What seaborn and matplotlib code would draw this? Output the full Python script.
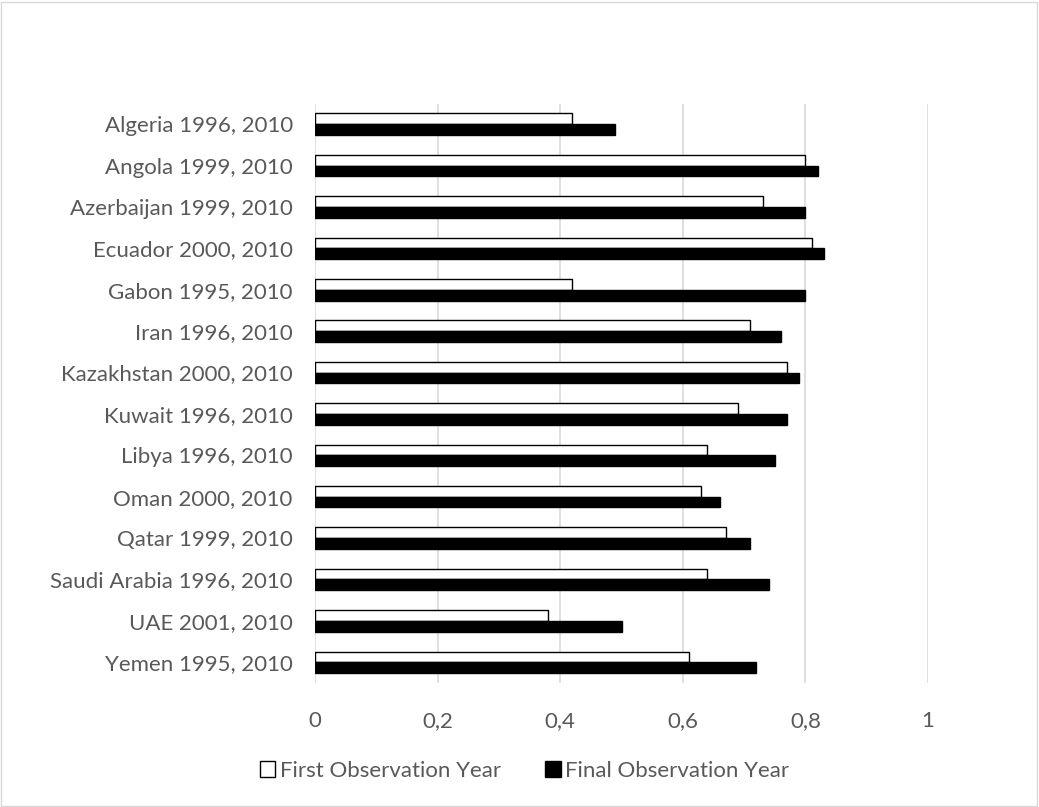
import matplotlib
matplotlib.use("Agg")
import matplotlib.pyplot as plt
import seaborn as sns
import pandas as pd
from matplotlib.patches import Rectangle
from matplotlib.ticker import FuncFormatter

countries = ["Algeria 1996, 2010", "Angola 1999, 2010", "Azerbaijan 1999, 2010",
             "Ecuador 2000, 2010", "Gabon 1995, 2010", "Iran 1996, 2010",
             "Kazakhstan 2000, 2010", "Kuwait 1996, 2010", "Libya 1996, 2010",
             "Oman 2000, 2010", "Qatar 1999, 2010", "Saudi Arabia 1996, 2010",
             "UAE 2001, 2010", "Yemen 1995, 2010"]
first_obs = [0.42, 0.80, 0.73, 0.81, 0.42, 0.71, 0.77, 0.69, 0.64, 0.63, 0.67, 0.64, 0.38, 0.61]
final_obs = [0.49, 0.82, 0.80, 0.83, 0.80, 0.76, 0.79, 0.77, 0.75, 0.66, 0.71, 0.74, 0.50, 0.72]
series = ["First Observation Year", "Final Observation Year"]
xticks = [0, 0.2, 0.4, 0.6, 0.8, 1]

df = pd.DataFrame({
    "country": countries * 2,
    "value": first_obs + final_obs,
    "series": [series[0]] * len(countries) + [series[1]] * len(countries),
})

sns.set_theme(style="white")
plt.rcParams['font.family'] = ['Lato', 'DejaVu Sans']

TXT = "#595959"
fig = plt.figure(figsize=(10.39, 8.07), dpi=100)
ax = fig.add_axes([0.3032, 0.1537, 0.59, 0.718])

sns.barplot(data=df, y="country", x="value", hue="series", orient="h",
            palette=["white", "black"], width=0.52, edgecolor="black",
            linewidth=1.0, ax=ax, legend=False, saturation=1)

ax.set_xlim(0, 1)
ax.set_xticks(xticks)
ax.xaxis.set_major_formatter(FuncFormatter(lambda v, p: ("%g" % v).replace(".", ",")))
ax.grid(axis="x", color="#d9d9d9", linewidth=1.2)
ax.set_axisbelow(True)
for s in ax.spines.values():
    s.set_visible(False)
ax.set_xlabel("")
ax.set_ylabel("")
ax.tick_params(axis="both", length=0, labelsize=16, colors=TXT)
ax.tick_params(axis="x", pad=20)
ax.tick_params(axis="y", pad=16)

handles = [Rectangle((0, 0), 1, 1, facecolor="white", edgecolor="black", linewidth=1.0),
           Rectangle((0, 0), 1, 1, facecolor="black", edgecolor="black", linewidth=1.0)]
fig.legend(handles, series, loc="center", bbox_to_anchor=(0.505, 0.045), ncol=2,
           frameon=False, fontsize=16, handlelength=0.7, handleheight=0.7,
           handletextpad=0.2, columnspacing=2.0, labelcolor=TXT)

fig.add_artist(Rectangle((0.001, 0.001), 0.997, 0.997, transform=fig.transFigure,
                         fill=False, edgecolor="#d9d9d9", linewidth=1))

fig.savefig("out.png", dpi=100)
